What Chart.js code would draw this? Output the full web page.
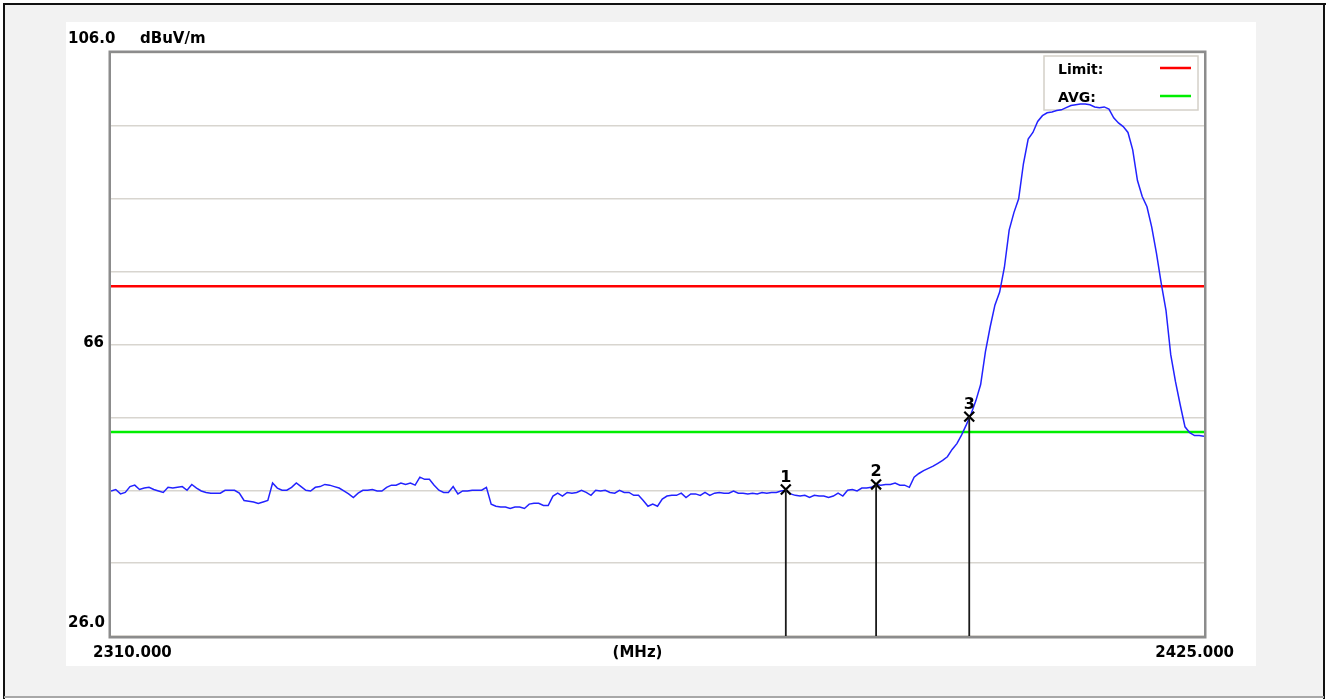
<!DOCTYPE html>
<html>
<head>
<meta charset="UTF-8">
<title>Radiated Emission 2310 - 2425 MHz</title>
<script src="https://cdn.jsdelivr.net/npm/chart.js@4.4.1/dist/chart.umd.min.js"></script>
<style>
  html, body { margin: 0; padding: 0; background: #ffffff; }
  #wrap { width: 1332px; height: 699px; }
</style>
</head>
<body>
<div id="wrap"><canvas id="scan" width="1332" height="699"></canvas></div>
<script>
// sweep settings
const START_MHZ = 2310;
const STOP_MHZ = 2425;
const STEP_MHZ = 0.5;
const Y_MIN = 26;
const Y_MAX = 106;
const Y_STEP = 10;

// limit lines (dBuV/m)
const LIMIT_DB = 74;
const AVG_DB = 54;

// trace level every 0.5 MHz
const traceLevels = [
    45.9, 46.1, 45.5, 45.7, 46.5, 46.7, 46.1, 46.3, 46.4, 46.1,
    45.9, 45.7, 46.4, 46.3, 46.4, 46.5, 46.0, 46.8, 46.3, 45.9,
    45.7, 45.6, 45.6, 45.6, 46.0, 46.0, 46.0, 45.6, 44.6, 44.5,
    44.4, 44.2, 44.4, 44.6, 47.0, 46.3, 46.0, 46.0, 46.4, 47.0,
    46.5, 46.0, 45.9, 46.4, 46.5, 46.8, 46.7, 46.5, 46.3, 45.9,
    45.5, 45.0, 45.6, 46.0, 46.0, 46.1, 45.9, 45.9, 46.4, 46.7,
    46.7, 47.0, 46.8, 47.0, 46.7, 47.8, 47.5, 47.5, 46.7, 46.0,
    45.7, 45.7, 46.5, 45.5, 45.9, 45.9, 46.0, 46.0, 46.0, 46.4,
    44.1, 43.8, 43.7, 43.7, 43.5, 43.7, 43.7, 43.5, 44.1, 44.2,
    44.2, 43.9, 43.9, 45.2, 45.6, 45.2, 45.7, 45.6, 45.7, 46.0,
    45.7, 45.3, 46.0, 45.9, 46.0, 45.7, 45.6, 46.0, 45.7, 45.7,
    45.3, 45.3, 44.6, 43.8, 44.1, 43.8, 44.8, 45.2, 45.3, 45.3,
    45.6, 45.0, 45.5, 45.5, 45.3, 45.7, 45.3, 45.6, 45.7, 45.6,
    45.6, 45.9, 45.6, 45.6, 45.5, 45.6, 45.5, 45.7, 45.6, 45.7,
    45.7, 45.9, 46.0, 45.5, 45.3, 45.2, 45.3, 45.0, 45.3, 45.2,
    45.2, 45.0, 45.2, 45.6, 45.2, 46.0, 46.1, 45.9, 46.3, 46.3,
    46.4, 46.8, 46.7, 46.8, 46.8, 47.0, 46.7, 46.7, 46.4, 47.8,
    48.3, 48.7, 49.0, 49.3, 49.7, 50.1, 50.6, 51.6, 52.4, 53.6,
    55.0, 56.5, 58.3, 60.5, 65.0, 68.4, 71.4, 73.2, 76.6, 81.7,
    84.1, 86.0, 90.8, 94.2, 95.1, 96.6, 97.4, 97.8, 97.9, 98.1,
    98.2, 98.5, 98.8, 98.9, 99.0, 99.0, 98.9, 98.6, 98.5, 98.6,
    98.3, 97.1, 96.4, 95.9, 95.1, 92.7, 88.5, 86.3, 84.9, 82.1,
    78.5, 74.4, 70.7, 64.6, 60.9, 57.7, 54.7, 53.9, 53.5, 53.5,
    53.4
];

// markers
const markerNo = ['1', '2', '3'];
const markerMHz = [2381.0, 2390.5, 2400.3];
const markerDb = [46.1, 46.8, 56.1];

// texts
const yTickLabels = ['106.0', '66', '26.0'];
const yTickValues = [106, 66, 26];
const yUnit = 'dBuV/m';
const xTickLabels = ['2310.000', '(MHz)', '2425.000'];
const legendNames = ['Limit:', 'AVG:'];
const legendColors = ['#ff0000', '#00ee00'];

const FONT = '"DejaVu Sans", "Liberation Sans", sans-serif';

const tracePoints = traceLevels.map((v, i) => ({ x: START_MHZ + i * STEP_MHZ, y: v }));
const markerPoints = markerMHz.map((f, i) => ({ x: f, y: markerDb[i] }));

// page background, outer border and white panel
const backdrop = {
    id: 'backdrop',
    beforeDraw(chart) {
        const ctx = chart.ctx;
        ctx.save();
        ctx.fillStyle = '#ffffff';
        ctx.fillRect(0, 0, chart.width, chart.height);
        ctx.fillStyle = '#f2f2f2';
        ctx.fillRect(4, 4, 1320, 693);
        ctx.fillStyle = '#ffffff';
        ctx.fillRect(66, 22, 1190, 644);
        ctx.fillStyle = '#111111';
        ctx.fillRect(3, 3, 1323, 2);
        ctx.fillRect(3, 3, 2, 696);
        ctx.fillRect(1323, 3, 2, 696);
        ctx.fillStyle = '#a8a8a8';
        ctx.fillRect(4, 696, 1320, 2);
        ctx.restore();
    }
};

// legend box inside the plot, drawn under the trace
const legendBox = {
    id: 'legendBox',
    beforeDatasetsDraw(chart) {
        const ctx = chart.ctx;
        ctx.save();
        ctx.fillStyle = '#ffffff';
        ctx.fillRect(1044, 56, 154, 54);
        ctx.strokeStyle = '#d4d0c8';
        ctx.lineWidth = 1.5;
        ctx.strokeRect(1044, 56, 154, 54);
        ctx.font = 'bold 14px ' + FONT;
        ctx.textBaseline = 'alphabetic';
        ctx.textAlign = 'left';
        legendNames.forEach((name, i) => {
            const y = 74 + i * 28;
            ctx.fillStyle = '#000000';
            ctx.fillText(name, 1058, y);
            ctx.strokeStyle = legendColors[i];
            ctx.lineWidth = 2.5;
            ctx.beginPath();
            ctx.moveTo(1160, y - 6);
            ctx.lineTo(1191, y - 6);
            ctx.stroke();
        });
        ctx.restore();
    }
};

// frame, marker drop lines, marker numbers and axis texts
const overlay = {
    id: 'overlay',
    afterDatasetsDraw(chart) {
        const ctx = chart.ctx;
        const ca = chart.chartArea;
        const xs = chart.scales.x;
        const ys = chart.scales.y;
        ctx.save();

        ctx.strokeStyle = '#1a1a1a';
        ctx.lineWidth = 1.8;
        markerMHz.forEach((f, i) => {
            const px = xs.getPixelForValue(f);
            ctx.beginPath();
            ctx.moveTo(px, ys.getPixelForValue(markerDb[i]));
            ctx.lineTo(px, ys.getPixelForValue(Y_MIN));
            ctx.stroke();
        });

        ctx.fillStyle = '#000000';
        ctx.font = 'bold 16px ' + FONT;
        ctx.textAlign = 'center';
        markerMHz.forEach((f, i) => {
            ctx.fillText(markerNo[i], xs.getPixelForValue(f), ys.getPixelForValue(markerDb[i]) - 8);
        });

        ctx.strokeStyle = '#8c8c8c';
        ctx.lineWidth = 2.5;
        ctx.strokeRect(ca.left - 1.25, ca.top - 1.25, ca.right - ca.left + 2.5, ca.bottom - ca.top + 2.5);

        ctx.font = 'bold 15px ' + FONT;
        ctx.fillStyle = '#000000';
        ctx.textAlign = 'left';
        ctx.fillText(yTickLabels[0], 68, ys.getPixelForValue(yTickValues[0]) - 10);
        ctx.fillText(yUnit, 140, ys.getPixelForValue(yTickValues[0]) - 10);
        ctx.textAlign = 'right';
        ctx.fillText(yTickLabels[1], 104, ys.getPixelForValue(yTickValues[1]) + 2);
        ctx.fillText(yTickLabels[2], 105, ys.getPixelForValue(yTickValues[2]) - 9);

        const base = ca.bottom + 21;
        ctx.textAlign = 'left';
        ctx.fillText(xTickLabels[0], xs.getPixelForValue(START_MHZ) - 18, base);
        ctx.textAlign = 'center';
        ctx.fillText(xTickLabels[1], (ca.left + ca.right) / 2 - 20, base);
        ctx.textAlign = 'right';
        ctx.fillText(xTickLabels[2], xs.getPixelForValue(STOP_MHZ) + 30, base);
        ctx.restore();
    }
};

new Chart(document.getElementById('scan'), {
    type: 'line',
    data: {
        datasets: [
            {
                label: 'Markers',
                data: markerPoints,
                showLine: false,
                pointStyle: 'crossRot',
                pointRadius: 7,
                pointBorderWidth: 2.2,
                borderColor: '#000000',
                backgroundColor: '#000000',
                order: 0
            },
            {
                label: 'Limit',
                data: [{ x: START_MHZ, y: LIMIT_DB }, { x: STOP_MHZ, y: LIMIT_DB }],
                borderColor: '#ff0000',
                borderWidth: 2.5,
                pointRadius: 0,
                order: 2
            },
            {
                label: 'AVG',
                data: [{ x: START_MHZ, y: AVG_DB }, { x: STOP_MHZ, y: AVG_DB }],
                borderColor: '#00ee00',
                borderWidth: 2.5,
                pointRadius: 0,
                order: 2
            },
            {
                label: 'Trace',
                data: tracePoints,
                borderColor: '#2222ff',
                borderWidth: 1.5,
                pointRadius: 0,
                tension: 0,
                order: 1
            }
        ]
    },
    options: {
        responsive: false,
        animation: false,
        devicePixelRatio: 1,
        layout: { padding: { left: 111, right: 128, top: 53, bottom: 63 } },
        plugins: {
            legend: { display: false },
            tooltip: { enabled: false }
        },
        scales: {
            x: {
                type: 'linear',
                min: START_MHZ,
                max: STOP_MHZ,
                grid: { display: false, drawTicks: false },
                border: { display: false },
                ticks: { display: false }
            },
            y: {
                min: Y_MIN,
                max: Y_MAX,
                ticks: { display: false, stepSize: Y_STEP },
                grid: { color: '#d8d5cf', lineWidth: 1.5, drawTicks: false },
                border: { display: false }
            }
        }
    },
    plugins: [backdrop, legendBox, overlay]
});
</script>
</body>
</html>
